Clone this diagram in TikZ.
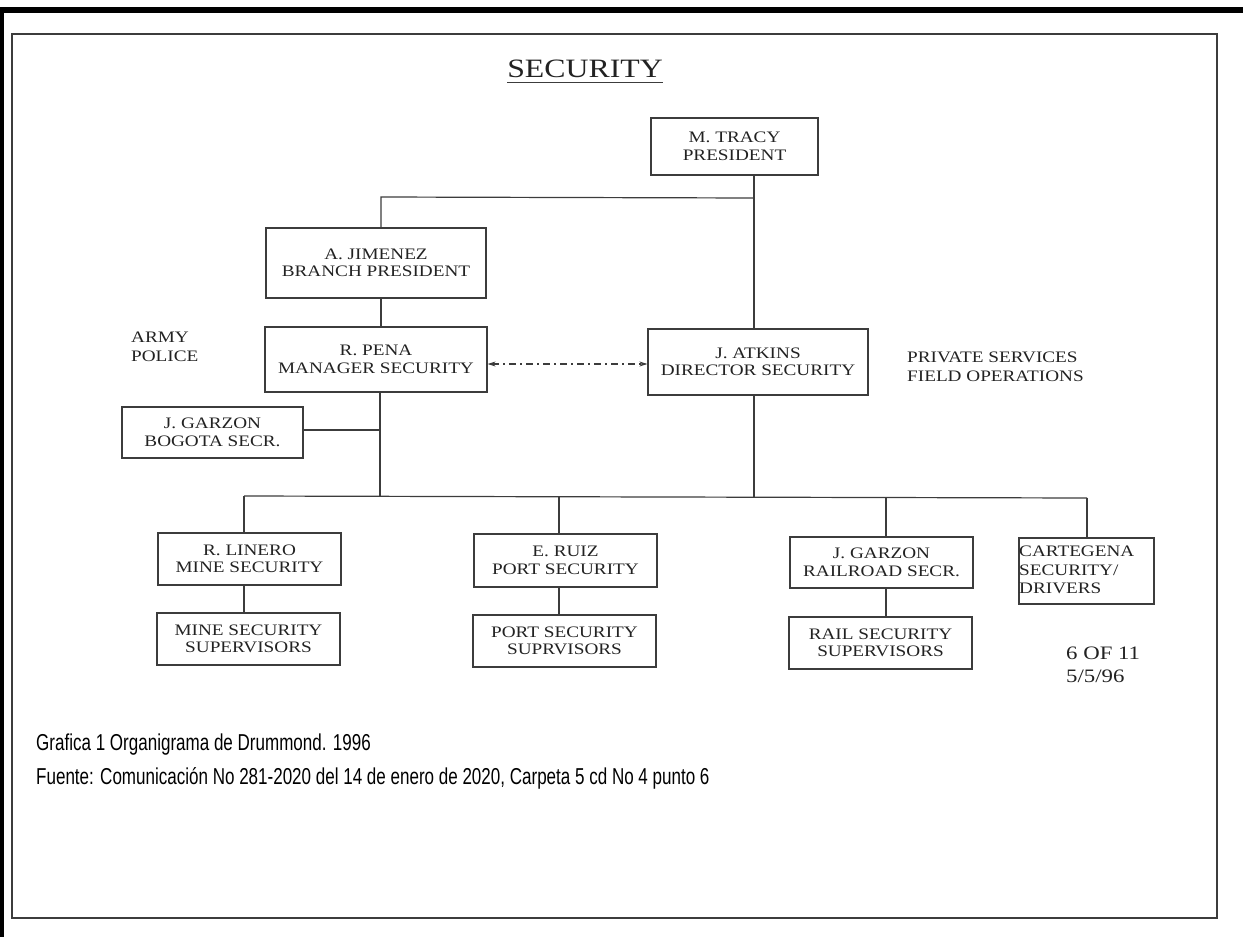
\documentclass[tikz,border=0pt]{standalone}
\usepackage{fontspec}
\usetikzlibrary{arrows.meta}
\newfontfamily\orgfont{Liberation Serif}[FakeStretch=1.2]
\newfontfamily\capfont{Liberation Sans}[FakeStretch=0.74]
\definecolor{ink}{HTML}{222222}
\definecolor{rule}{HTML}{3C3C3C}
\tikzset{
  orgbox/.style={draw=rule, line width=1.2pt, align=center, inner sep=0pt,
    text=ink, font=\orgfont\fontsize{16}{17.5}\selectfont},
  link/.style={draw=rule, line width=1.2pt},
  note/.style={inner sep=0pt, align=left, text=ink, font=\orgfont\fontsize{16}{18.5}\selectfont},
  caption/.style={inner sep=0pt, anchor=west, text=black, font=\capfont\fontsize{23}{26}\selectfont}
}
\begin{document}
\begin{tikzpicture}[x=1pt,y=-1pt]
\useasboundingbox (0,0) rectangle (1243,937);
% page edges and frame
\fill[black] (0,7) rectangle (1243,13);
\fill[black] (0,7) rectangle (4,937);
\draw[line width=1.4pt, rule] (12,34) rectangle (1217,918);

% title
\node[inner sep=0pt, text=ink, font=\orgfont\fontsize{26.5}{30}\selectfont] (title) at (585,69) {SECURITY};
\draw[line width=1.3pt, rule] ([yshift=-5pt]title.base west) -- ([yshift=-5pt]title.base east);

% boxes
\node[orgbox, minimum width=167pt, minimum height=57pt] (tracy) at (734.5,146.5) {M. TRACY\\PRESIDENT};
\node[orgbox, minimum width=220pt, minimum height=70pt] (jimenez) at (376,263) {A. JIMENEZ\\BRANCH PRESIDENT};
\node[orgbox, minimum width=222pt, minimum height=65pt] (pena) at (376,359.5) {R. PENA\\MANAGER SECURITY};
\node[orgbox, minimum width=220pt, minimum height=66pt] (atkins) at (758,362) {J. ATKINS\\DIRECTOR SECURITY};
\node[orgbox, minimum width=181pt, minimum height=51pt] (bogota) at (212.5,432.5) {J. GARZON\\BOGOTA SECR.};
\node[orgbox, minimum width=183pt, minimum height=52pt] (linero) at (249.5,559) {R. LINERO\\MINE SECURITY};
\node[orgbox, minimum width=183pt, minimum height=52pt] (minesup) at (248.5,639) {MINE SECURITY\\SUPERVISORS};
\node[orgbox, minimum width=183pt, minimum height=53pt] (ruiz) at (565.5,560.5) {E. RUIZ\\PORT SECURITY};
\node[orgbox, minimum width=183pt, minimum height=52pt] (portsup) at (564.5,641) {PORT SECURITY\\SUPRVISORS};
\node[orgbox, minimum width=183pt, minimum height=51pt] (railroad) at (881.5,562.5) {J. GARZON\\RAILROAD SECR.};
\node[orgbox, minimum width=183pt, minimum height=52pt] (railsup) at (880.5,643) {RAIL SECURITY\\SUPERVISORS};
\node[draw=rule, line width=1.2pt, minimum width=135pt, minimum height=66pt] (cartegena) at (1086.5,571) {};
\node[note, anchor=west] (cartext) at (1019,570) {CARTEGENA\\SECURITY/\\DRIVERS};

% side notes
\node[note, anchor=west] (army) at (131,347) {ARMY\\POLICE};
\node[note, anchor=west] (private) at (907,367) {PRIVATE SERVICES\\FIELD OPERATIONS};
\node[note, anchor=west, font=\orgfont\fontsize{19}{23}\selectfont] (page) at (1066,665) {6 OF 11\\5/5/96};

% junction points
\coordinate (trunkR) at (754,198);
\coordinate (trunkL) at (381,197);
\coordinate (penaline) at (380,430);
\coordinate (busL) at (244,496);
\coordinate (busPena) at (380,496);
\coordinate (busAtk) at (754,497);
\coordinate (busRuiz) at (559,496.5);
\coordinate (busRail) at (886,497.5);
\coordinate (busR) at (1087,498);

% connectors
\draw[link] (tracy.south -| trunkR) -- (atkins.north -| trunkR);
\draw[link] (trunkR) -- (trunkL) -- (jimenez.north -| trunkL);
\draw[link] (jimenez.south -| trunkL) -- (pena.north -| trunkL);
\draw[link] (pena.south -| penaline) -- (busPena);
\draw[link] (bogota.east |- penaline) -- (penaline);
\draw[link] (atkins.south -| busAtk) -- (busAtk);
\draw[link] (busL) -- (busR);
\draw[link] (busL) -- (linero.north -| busL);
\draw[link] (busRuiz) -- (ruiz.north -| busRuiz);
\draw[link] (busRail) -- (railroad.north -| busRail);
\draw[link] (busR) -- (cartegena.north -| busR);
\draw[link] (linero.south -| busL) -- (minesup.north -| busL);
\draw[link] (ruiz.south -| busRuiz) -- (portsup.north -| busRuiz);
\draw[link] (railroad.south -| busRail) -- (railsup.north -| busRail);

% liaison between the two security heads
\draw[draw=rule, line width=1.1pt, dash pattern=on 7pt off 4pt on 2pt off 4pt,
  {Stealth[length=8pt,width=5pt]}-{Stealth[length=8pt,width=5pt]}]
  (pena.east |- 0,364) -- (atkins.west |- 0,364);

% caption
\node[caption] (cap1) at (36,745) {Grafica 1 Organigrama de Drummond. 1996};
\node[caption] (cap2) at (36,778) {Fuente: Comunicación No 281-2020 del 14 de enero de 2020, Carpeta 5 cd No 4 punto 6};
\end{tikzpicture}
\end{document}
